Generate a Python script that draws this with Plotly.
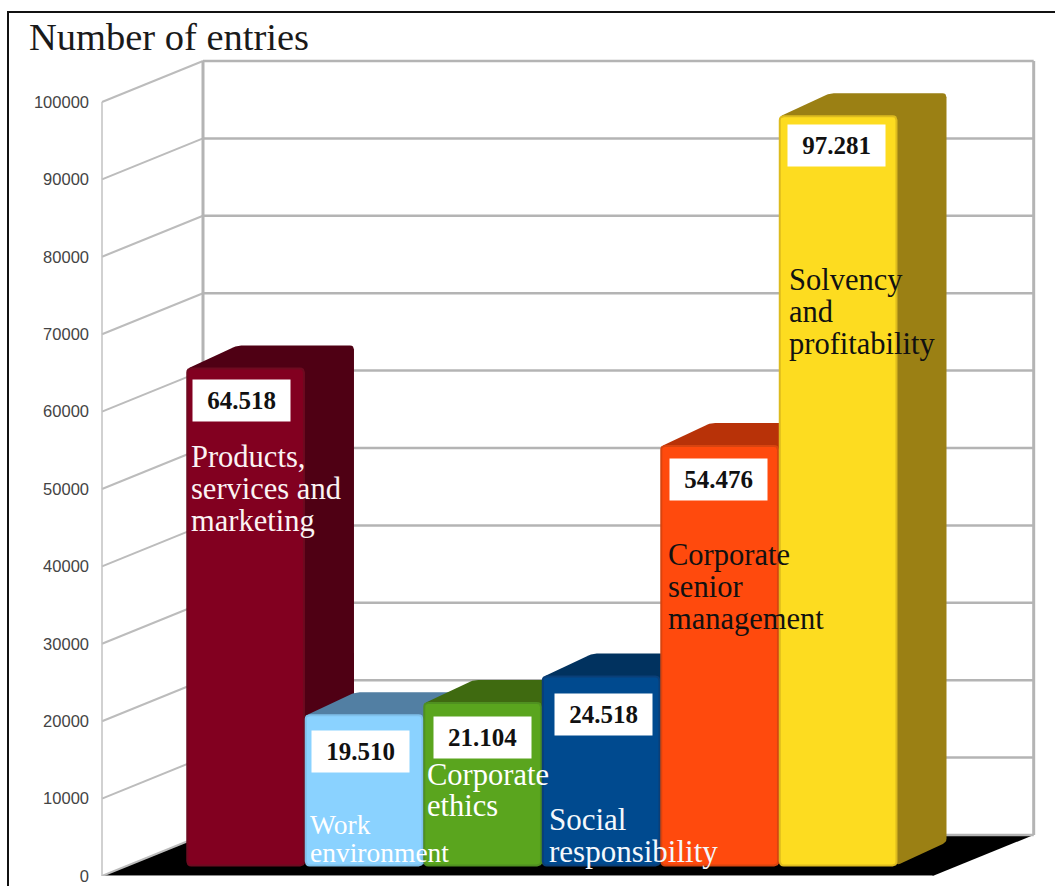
import plotly.graph_objects as go

# Chart data
categories = [
    ["Products,", "services and", "marketing"],
    ["Work", "environment"],
    ["Corporate", "ethics"],
    ["Social", "responsibility"],
    ["Corporate", "senior", "management"],
    ["Solvency", "and", "profitability"],
]
entries = [64518, 19510, 21104, 24518, 54476, 97281]
value_labels = ["64.518", "19.510", "21.104", "24.518", "54.476", "97.281"]
axis_ticks = [0, 10000, 20000, 30000, 40000, 50000, 60000, 70000, 80000, 90000, 100000]

# Bar colours
front_colors = ["#820020", "#8AD2FF", "#5AA51E", "#004A8F", "#FF4A0D", "#FDDC20"]
edge_colors = ["#6E0A20", "#7FC0EA", "#4F9020", "#0A3F78", "#D8440F", "#DDBB1E"]
top_colors = ["#4F0014", "#527FA3", "#3F6A10", "#01325F", "#B83208", "#9B8014"]

# Text colours and placement of the captions inside the bars
text_colors = ["#FBF3F3", "#FFFFFF", "#FFFFFF", "#F4F8FC", "#111111", "#111111"]
caption_left = [189.5, 308.5, 425.5, 547.5, 666.5, 787.5]
caption_rows = [[457, 489, 521], [824, 852], [775, 806], [819, 851], [555, 587, 619], [280, 312, 344]]
caption_size = [30.5, 27.5, 30.5, 31, 30.5, 30.5]
box_centre_px = [(241.5, 400), (360.5, 751), (482.5, 737), (603, 714), (718.5, 479), (836, 145.5)]

# Page geometry (pixels)
WIDTH, HEIGHT = 1055, 886
LEFT, BOTTOM = 90, 10
PX_PER_CAT = 118.5
PX_PER_UNIT = 77.4 / 10000
ORIGIN_PX = 220.5

# Oblique projection of the box: how far depth moves a point right and up
DEPTH_RUN = 101 / PX_PER_CAT
DEPTH_RISE = 41 / PX_PER_UNIT
BAR_PLANE = 0.2575
BAR_RUN = 50 / PX_PER_CAT
BAR_RISE = 23 / PX_PER_UNIT
BAR_WIDTH = 0.985
FRONT_SCALE = 0.995
WALL_L, WALL_R = -1, 6.01

x_range = [(LEFT - ORIGIN_PX) / PX_PER_CAT, (WIDTH - ORIGIN_PX) / PX_PER_CAT]
y_range = [0, (HEIGHT - BOTTOM) / PX_PER_UNIT]


def px_to_x(px):
    return (px - ORIGIN_PX) / PX_PER_CAT


def px_to_y(py):
    return (HEIGHT - BOTTOM - py) / PX_PER_UNIT


def rounded(xs, ys, radius=4, steps=4):
    """Soften polygon corners with small quadratic arcs, radius given in pixels."""
    n = len(xs)
    out_x, out_y = [], []
    for i in range(n):
        px_pt = (xs[i] * PX_PER_CAT, ys[i] * PX_PER_UNIT)
        prev = (xs[i - 1] * PX_PER_CAT, ys[i - 1] * PX_PER_UNIT)
        nxt = (xs[(i + 1) % n] * PX_PER_CAT, ys[(i + 1) % n] * PX_PER_UNIT)
        def toward(a, b):
            dist = ((a[0] - b[0]) ** 2 + (a[1] - b[1]) ** 2) ** 0.5
            f = min(radius / dist, 0.5)
            return (a[0] + (b[0] - a[0]) * f, a[1] + (b[1] - a[1]) * f)
        p0, p2 = toward(px_pt, prev), toward(px_pt, nxt)
        for s in range(steps + 1):
            t = s / steps
            qx = (1 - t) ** 2 * p0[0] + 2 * t * (1 - t) * px_pt[0] + t ** 2 * p2[0]
            qy = (1 - t) ** 2 * p0[1] + 2 * t * (1 - t) * px_pt[1] + t ** 2 * p2[1]
            out_x.append(qx / PX_PER_CAT)
            out_y.append(qy / PX_PER_UNIT)
    out_x.append(out_x[0])
    out_y.append(out_y[0])
    return out_x, out_y


def polygon(xs, ys, fill, line=None, width=0, radius=4):
    rx, ry = rounded(xs, ys, radius)
    return go.Scatter(
        x=rx, y=ry, mode="lines", fill="toself", fillcolor=fill,
        line=dict(color=line or fill, width=width), hoverinfo="skip", showlegend=False,
    )


def line_path(xs, ys, color, width):
    return go.Scatter(
        x=xs, y=ys, mode="lines", line=dict(color=color, width=width),
        hoverinfo="skip", showlegend=False,
    )


fig = go.Figure()

# Black floor of the box
fig.add_trace(go.Scatter(
    x=[WALL_L, WALL_R, WALL_R + DEPTH_RUN, WALL_L + DEPTH_RUN, WALL_L],
    y=[0, 0, DEPTH_RISE, DEPTH_RISE, 0],
    mode="lines", fill="toself", fillcolor="#000000", line=dict(color="#000000", width=0),
    hoverinfo="skip", showlegend=False,
))
fig.add_trace(line_path([WALL_L, WALL_R], [0, 0], "#B8B8B8", 1.5))

# Gridlines on the back and left walls
side_x, side_y, back_x, back_y = [], [], [], []
for tick in axis_ticks:
    side_x += [WALL_L, WALL_L + DEPTH_RUN, None]
    side_y += [tick, tick + DEPTH_RISE, None]
    back_x += [WALL_L + DEPTH_RUN, WALL_R + DEPTH_RUN, None]
    back_y += [tick + DEPTH_RISE, tick + DEPTH_RISE, None]
fig.add_trace(line_path(side_x, side_y, "#BCBCBC", 2))
fig.add_trace(line_path(back_x, back_y, "#B4B4B4", 2.5))

top_value = axis_ticks[-1]
fig.add_trace(line_path([WALL_L, WALL_L], [0, top_value], "#C2C2C2", 1.5))
for corner in (WALL_L + DEPTH_RUN, WALL_R + DEPTH_RUN):
    fig.add_trace(line_path([corner, corner], [DEPTH_RISE, top_value + DEPTH_RISE], "#B4B4B4", 3))

# Bars, drawn left to right so each one overlaps its neighbour
annotations = []
for i, value in enumerate(entries):
    base = BAR_PLANE * DEPTH_RISE
    top = base + value * FRONT_SCALE
    x0 = i - 0.5 + BAR_PLANE * DEPTH_RUN
    x1 = x0 + BAR_WIDTH

    # Side and top faces share one silhouette behind the front face
    fig.add_trace(polygon(
        [x1, x1 + BAR_RUN, x1 + BAR_RUN, x0 + BAR_RUN, x0],
        [base, base + BAR_RISE, top + BAR_RISE, top + BAR_RISE, top],
        top_colors[i],
    ))
    fig.add_trace(polygon(
        [x0, x1, x1, x0], [base, base, top, top],
        front_colors[i], edge_colors[i], 2,
    ))

    # Value box
    cx, cy = box_centre_px[i]
    annotations.append(dict(
        x=px_to_x(cx), y=px_to_y(cy), xref="x", yref="y", showarrow=False,
        text=f"<b>{value_labels[i]}</b>", width=97, height=41, bgcolor="#FFFFFF",
        align="center", valign="middle", borderpad=0,
        font=dict(family="Liberation Serif", size=25, color="#111111"),
    ))

    # Caption, one annotation per row for a tight line spacing
    for row, py in zip(categories[i], caption_rows[i]):
        annotations.append(dict(
            x=px_to_x(caption_left[i]), y=px_to_y(py), xref="x", yref="y",
            xanchor="left", yanchor="middle", showarrow=False, text=row, borderpad=0,
            font=dict(family="Liberation Serif", size=caption_size[i], color=text_colors[i]),
        ))

# Frame around the chart: only its top and left sides fall inside the page
plot_w = WIDTH - LEFT
plot_h = HEIGHT - BOTTOM
frame = dict(
    type="rect", xref="paper", yref="paper",
    x0=(8 - LEFT) / plot_w, x1=(WIDTH + 20 - LEFT) / plot_w,
    y0=-0.1, y1=(plot_h - 12) / plot_h,
    line=dict(color="#111111", width=2), layer="above",
)

fig.update_layout(
    width=WIDTH, height=HEIGHT,
    margin=dict(l=LEFT, r=0, t=0, b=BOTTOM, pad=0),
    paper_bgcolor="#FFFFFF", plot_bgcolor="#FFFFFF",
    showlegend=False,
    title=dict(
        text="Number of entries", x=29 / WIDTH, xref="container", xanchor="left",
        y=1 - 37 / HEIGHT, yref="container", yanchor="middle",
        font=dict(family="Liberation Serif", size=38.5, color="#1A1A1A"),
    ),
    xaxis=dict(range=x_range, visible=False, fixedrange=True),
    yaxis=dict(
        range=y_range, tickmode="array", tickvals=axis_ticks,
        ticktext=[str(t) for t in axis_ticks], showgrid=False, zeroline=False,
        showline=False, ticks="", fixedrange=True,
        tickfont=dict(family="Liberation Sans", size=16.5, color="#444444"),
    ),
    annotations=annotations,
    shapes=[frame],
)

fig.write_html("out.html", config={"displayModeBar": False})
